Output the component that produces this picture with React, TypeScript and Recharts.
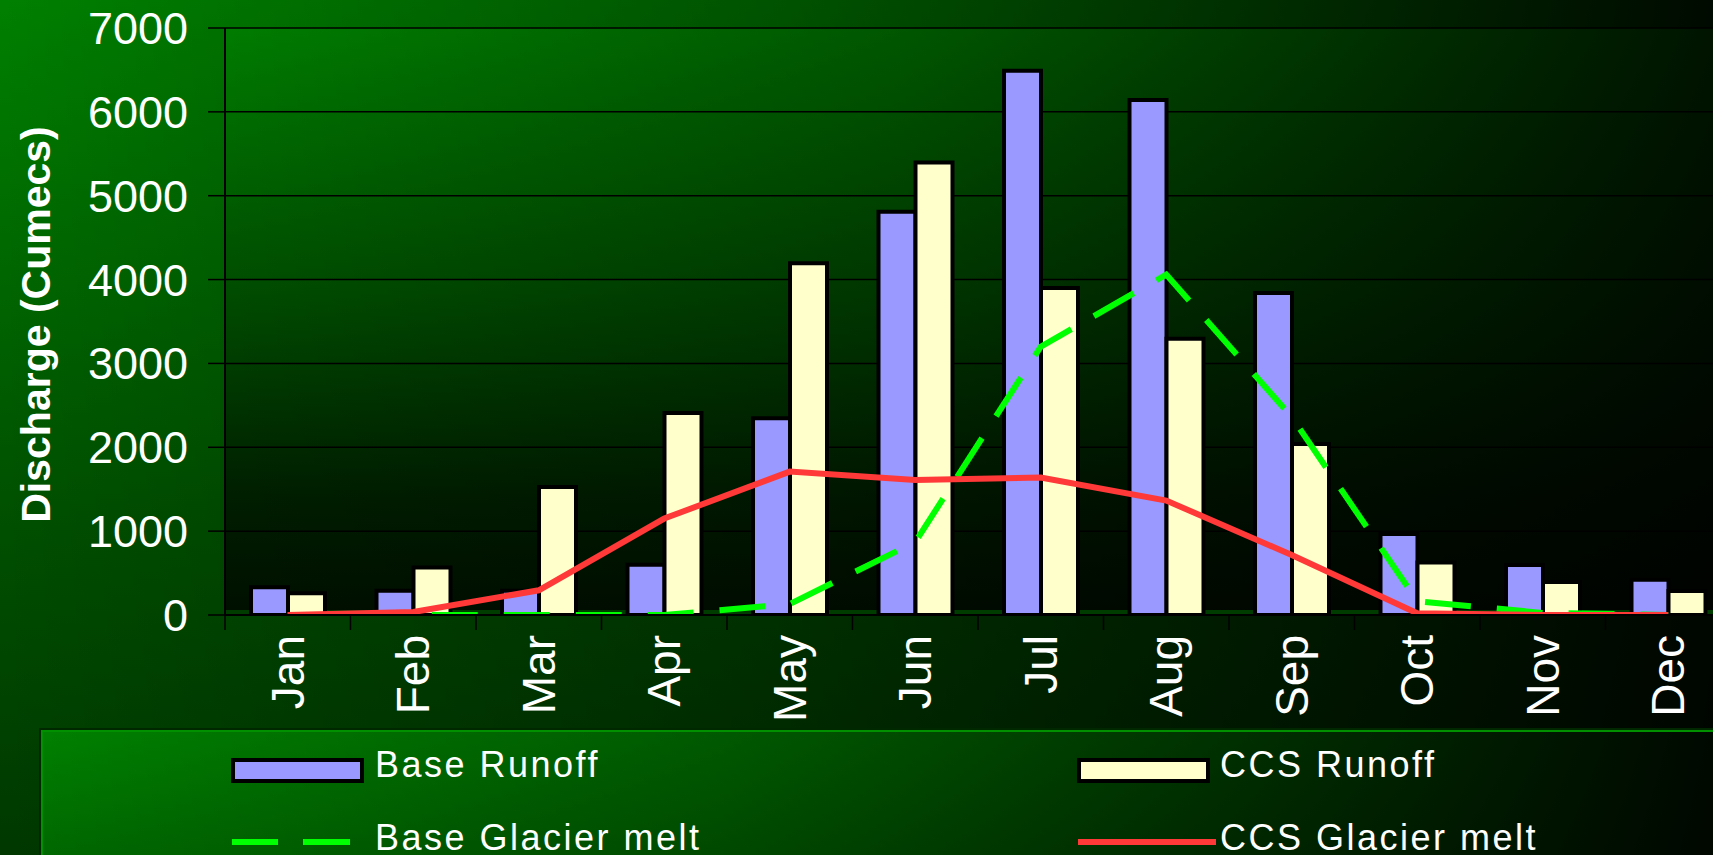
// @ts-nocheck
import React from 'react';
import {
  ComposedChart,
  Bar,
  Line,
  XAxis,
  YAxis,
  CartesianGrid,
  ReferenceArea,
} from 'recharts';

const months = ['Jan', 'Feb', 'Mar', 'Apr', 'May', 'Jun', 'Jul', 'Aug', 'Sep', 'Oct', 'Nov', 'Dec'];
const baseRunoff = [330, 290, 290, 600, 2345, 4810, 6490, 6140, 3840, 965, 595, 420];
const ccsRunoff = [260, 565, 1525, 2410, 4195, 5395, 3900, 3295, 2040, 625, 395, 285];
const baseMelt = [0, 0, 0, 0, 130, 870, 3200, 4060, 2360, 165, 25, 0];
const ccsMelt = [0, 35, 295, 1150, 1710, 1610, 1640, 1365, 715, 20, 0, 0];
const yTicks = [0, 1000, 2000, 3000, 4000, 5000, 6000, 7000];

const data = months.map((m, i) => ({
  month: m,
  baseRunoff: baseRunoff[i],
  ccsRunoff: ccsRunoff[i],
  baseMelt: baseMelt[i],
  ccsMelt: ccsMelt[i],
}));

const FONT = '"Liberation Sans", Arial, sans-serif';

const MonthTick = (props) => {
  const { x, y, payload, bandW } = props;
  const left = x - bandW / 2;
  return (
    <g>
      <line x1={left} y1={y} x2={left} y2={y + 15} stroke="#000" strokeWidth={1.5} />
      <text
        transform={`translate(${x},${y + 20}) rotate(-90)`}
        textAnchor="end"
        dominantBaseline="central"
        fill="#fff"
        fontSize={46}
        fontFamily={FONT}
      >
        {payload.value}
      </text>
    </g>
  );
};

const YTitle = (props) => {
  const vb = props.viewBox || { y: 28, height: 587 };
  const cy = vb.y + vb.height / 2 + 3;
  return (
    <text
      x={36}
      y={cy}
      transform={`rotate(-90 36 ${cy})`}
      textAnchor="middle"
      dominantBaseline="central"
      fill="#fff"
      fontSize={41}
      fontWeight="bold"
      fontFamily={FONT}
    >
      Discharge (Cumecs)
    </text>
  );
};

const legendText = {
  position: 'absolute',
  color: '#fff',
  fontFamily: FONT,
  fontSize: 36,
  lineHeight: '36px',
  letterSpacing: 2.5,
  whiteSpace: 'nowrap',
};

export default function App() {
  const chartW = 1731;
  const plotLeft = 225;
  const bandW = (chartW - plotLeft) / months.length;

  return (
    <div
      style={{
        position: 'absolute',
        left: 0,
        top: 0,
        width: 1713,
        height: 855,
        overflow: 'hidden',
        background:
          'linear-gradient(to right, rgba(0,0,0,0) 0%, rgba(0,0,0,0.35) 45%, rgba(0,0,0,0.92) 100%), linear-gradient(to bottom, #008000 0%, #005000 60%, #003800 100%)',
      }}
    >
      <ComposedChart
        width={chartW}
        height={855}
        data={data}
        margin={{ top: 28, right: 0, bottom: 0, left: 0 }}
        barGap={0}
      >
        <defs>
          <linearGradient id="plotV" x1="0" y1="0" x2="0" y2="1">
            <stop offset="0%" stopColor="#007c00" />
            <stop offset="45%" stopColor="#004c00" />
            <stop offset="80%" stopColor="#001e00" />
            <stop offset="100%" stopColor="#000f00" />
          </linearGradient>
          <linearGradient id="plotH" x1="0" y1="0" x2="1" y2="0">
            <stop offset="0%" stopColor="#000" stopOpacity={0} />
            <stop offset="45%" stopColor="#000" stopOpacity={0.3} />
            <stop offset="100%" stopColor="#000" stopOpacity={0.85} />
          </linearGradient>
        </defs>
        <CartesianGrid fill="url(#plotV)" horizontal={false} vertical={false} stroke="none" />
        <CartesianGrid fill="url(#plotH)" vertical={false} stroke="#000" strokeWidth={1.5} />
        <ReferenceArea y1={0} y2={60} fill="#003c00" fillOpacity={1} stroke="none" />
        <XAxis
          dataKey="month"
          height={240}
          tickLine={false}
          tickSize={0}
          tickMargin={0}
          axisLine={{ stroke: '#000', strokeWidth: 2 }}
          interval={0}
          tick={<MonthTick bandW={bandW} />}
        />
        <YAxis
          width={plotLeft}
          domain={[0, 7000]}
          ticks={yTicks}
          allowDataOverflow
          tickSize={17}
          tickMargin={20}
          tickLine={{ stroke: '#000', strokeWidth: 1.5 }}
          axisLine={{ stroke: '#000', strokeWidth: 2 }}
          tick={{ fill: '#fff', fontSize: 45, fontFamily: FONT }}
          label={{ content: (p) => <YTitle {...p} /> }}
        />
        <Bar dataKey="baseRunoff" name="Base Runoff" fill="#9999ff" stroke="#000" strokeWidth={4} barSize={37} isAnimationActive={false} />
        <Bar dataKey="ccsRunoff" name="CCS Runoff" fill="#ffffcc" stroke="#000" strokeWidth={4} barSize={37} isAnimationActive={false} />
        <Line
          dataKey="baseMelt"
          name="Base Glacier melt"
          type="linear"
          stroke="#00ff00"
          strokeWidth={6}
          strokeDasharray="46 26"
          dot={false}
          activeDot={false}
          isAnimationActive={false}
        />
        <Line
          dataKey="ccsMelt"
          name="CCS Glacier melt"
          type="linear"
          stroke="#ff3838"
          strokeWidth={6}
          dot={false}
          activeDot={false}
          isAnimationActive={false}
        />
      </ComposedChart>

      {/* legend box */}
      <div
        style={{
          position: 'absolute',
          left: 41,
          top: 730,
          width: 1700,
          height: 200,
          border: '2px solid #009000',
          boxShadow: '0 0 0 2px #002800',
          background:
            'linear-gradient(to right, rgba(0,0,0,0) 0%, rgba(0,0,0,0.3) 40%, rgba(0,0,0,0.95) 100%), linear-gradient(to bottom, #008000 0%, #005800 100%)',
        }}
      />
      <div style={{ position: 'absolute', left: 231, top: 758, width: 125, height: 17, background: '#9999ff', border: '4px solid #000' }} />
      <div style={{ ...legendText, left: 375, top: 747 }}>Base Runoff</div>
      <div style={{ position: 'absolute', left: 1077, top: 758, width: 125, height: 17, background: '#ffffcc', border: '4px solid #000' }} />
      <div style={{ ...legendText, left: 1220, top: 747 }}>CCS Runoff</div>
      <div style={{ position: 'absolute', left: 232, top: 839, width: 46, height: 6, background: '#00ff00' }} />
      <div style={{ position: 'absolute', left: 303, top: 839, width: 47, height: 6, background: '#00ff00' }} />
      <div style={{ ...legendText, left: 375, top: 820 }}>Base Glacier melt</div>
      <div style={{ position: 'absolute', left: 1078, top: 839, width: 138, height: 6, background: '#ff3838' }} />
      <div style={{ ...legendText, left: 1220, top: 820 }}>CCS Glacier melt</div>
    </div>
  );
}
